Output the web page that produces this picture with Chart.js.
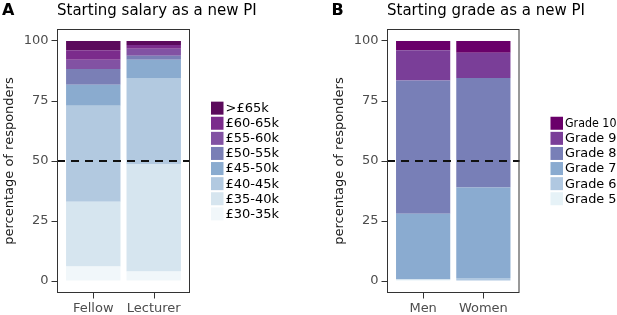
<!DOCTYPE html>
<html>
<head>
<meta charset="utf-8">
<script src="https://cdn.jsdelivr.net/npm/chart.js@4.4.1/dist/chart.umd.min.js"></script>
<style>
  body { margin: 0; background: #fff; width: 617px; height: 315px; overflow: hidden; position: relative; }
  .panel { position: absolute; top: 0; height: 315px; }
</style>
</head>
<body>
<div class="panel" style="left:0;width:310px"><canvas id="chartA"></canvas></div>
<div class="panel" style="left:310px;width:307px"><canvas id="chartB"></canvas></div>
<script>
// panel A: starting salary (bottom band first)
const salaryBands = ['£30-35k', '£35-40k', '£40-45k', '£45-50k', '£50-55k', '£55-60k', '£60-65k', '>£65k'];
const salaryGroups = ['Fellow', 'Lecturer'];
const fellowPct = [6, 27, 40, 8.8, 6.5, 3.9, 3.9, 3.9];
const lecturerPct = [4, 44.5, 36.1, 7.6, 1.7, 2.9, 1.5, 1.7];

// panel B: starting grade (bottom grade first)
const grades = ['Grade 5', 'Grade 6', 'Grade 7', 'Grade 8', 'Grade 9', 'Grade 10'];
const gradeGroups = ['Men', 'Women'];
const menPct = [0.6, 0, 27.4, 55.5, 12.6, 3.9];
const womenPct = [0, 1.3, 37.7, 45.6, 10.5, 4.9];

const yTicks = [0, 25, 50, 75, 100];
const refLine = 50;

const salaryColors = ['#f1f7fa', '#d6e5ef', '#b2c9e0', '#8aabcf', '#7a7fb6', '#8252a3', '#7b2c8c', '#5b0a5c'];
const gradeColors = ['#e6f2f7', '#b0c8e1', '#8aabd0', '#787fb7', '#7a3e98', '#6a006a'];

const FONT = 'DejaVu Sans';

function makePanel(id, cfg) {
  const datasets = cfg.labels.map((lab, i) => ({
    label: lab,
    data: cfg.groups.map((g, j) => ({ x: j + 1, y: cfg.values[j][i] })),
    backgroundColor: cfg.colors[i],
    borderWidth: 0,
    categoryPercentage: 1,
    barPercentage: 0.9
  }));

  const decor = {
    id: 'decor',
    afterDatasetsDraw(chart) {
      const { ctx, chartArea: a, scales: { x, y } } = chart;
      ctx.save();

      // dashed reference line
      const yy = y.getPixelForValue(refLine);
      ctx.setLineDash([8, 6]);
      ctx.lineWidth = 2;
      ctx.strokeStyle = '#111';
      ctx.beginPath();
      ctx.moveTo(a.left, yy);
      ctx.lineTo(a.right, yy);
      ctx.stroke();
      ctx.setLineDash([]);

      // panel border
      ctx.strokeStyle = '#333';
      ctx.lineWidth = 1;
      ctx.strokeRect(a.left + 0.5, a.top + 0.5, a.right - a.left - 1, a.bottom - a.top - 1);

      // x tick marks
      ctx.beginPath();
      cfg.groups.forEach((g, j) => {
        const px = Math.round(x.getPixelForValue(j + 1)) + 0.5;
        ctx.moveTo(px, a.bottom);
        ctx.lineTo(px, a.bottom + 5.5);
      });
      ctx.stroke();

      // letter + title
      ctx.fillStyle = '#000';
      ctx.textBaseline = 'alphabetic';
      ctx.textAlign = 'left';
      ctx.font = 'bold 16px ' + FONT;
      ctx.fillText(cfg.letter, cfg.letterX, 15);
      ctx.font = '15px ' + FONT;
      ctx.fillText(cfg.title, a.left, 15);

      // y axis title
      ctx.save();
      ctx.translate(cfg.yTitleX, (a.top + a.bottom) / 2);
      ctx.rotate(-Math.PI / 2);
      ctx.textAlign = 'center';
      ctx.font = '13px ' + FONT;
      ctx.fillStyle = '#1a1a1a';
      ctx.fillText('percentage of responders', 0, 0);
      ctx.restore();

      // legend, top item = last band
      const n = cfg.labels.length;
      const step = 15.1;
      const top0 = (a.top + a.bottom) / 2 - n * step / 2;
      const maxW = chart.width - (cfg.legendX + 14.5) - 0.5;
      ctx.font = '13px ' + FONT;
      ctx.textAlign = 'left';
      ctx.textBaseline = 'middle';
      for (let k = 0; k < n; k++) {
        const i = n - 1 - k;
        const cy = top0 + k * step + step / 2;
        ctx.fillStyle = cfg.colors[i];
        ctx.fillRect(cfg.legendX, cy - 6.5, 12.5, 13);
        ctx.fillStyle = '#000';
        ctx.fillText(cfg.labels[i], cfg.legendX + 14.5, cy + 0.5, maxW);
      }
      ctx.restore();
    }
  };

  return new Chart(document.getElementById(id), {
    type: 'bar',
    data: { datasets },
    options: {
      responsive: true,
      maintainAspectRatio: false,
      animation: false,
      events: [],
      layout: { padding: { left: 0, top: 29, right: cfg.rightPad, bottom: 0 } },
      plugins: { legend: { display: false }, tooltip: { enabled: false } },
      scales: {
        x: {
          type: 'linear',
          min: 0.4,
          max: 2.6,
          offset: false,
          stacked: true,
          afterBuildTicks: s => { s.ticks = cfg.groups.map((g, j) => ({ value: j + 1 })); },
          afterFit: s => { s.height = 22; },
          ticks: {
            callback: v => cfg.groups[v - 1],
            font: { family: FONT, size: 13 },
            color: '#4d4d4d',
            padding: 2,
            maxRotation: 0
          },
          // invisible: the plugin draws the x tick marks itself
          grid: { offset: false, drawOnChartArea: false, tickLength: 5.5, color: 'rgba(0,0,0,0)' },
          border: { display: false }
        },
        y: {
          min: -5,
          max: 105,
          stacked: true,
          afterBuildTicks: s => { s.ticks = yTicks.map(v => ({ value: v })); },
          afterFit: s => { s.width = cfg.yWidth; },
          ticks: {
            font: { family: FONT, size: 13 },
            color: '#4d4d4d',
            padding: 3
          },
          grid: { drawOnChartArea: false, tickLength: 5.5, color: '#333' },
          border: { display: false }
        }
      }
    },
    plugins: [decor]
  });
}

makePanel('chartA', {
  labels: salaryBands, groups: salaryGroups, values: [fellowPct, lecturerPct], colors: salaryColors,
  letter: 'A', letterX: 2, title: 'Starting salary as a new PI',
  yWidth: 57, rightPad: 120, yTitleX: 12.5, legendX: 211
});

makePanel('chartB', {
  labels: grades, groups: gradeGroups, values: [menPct, womenPct], colors: gradeColors,
  letter: 'B', letterX: 21.5, title: 'Starting grade as a new PI',
  yWidth: 77, rightPad: 97.5, yTitleX: 32.5, legendX: 240.5
});
</script>
</body>
</html>
